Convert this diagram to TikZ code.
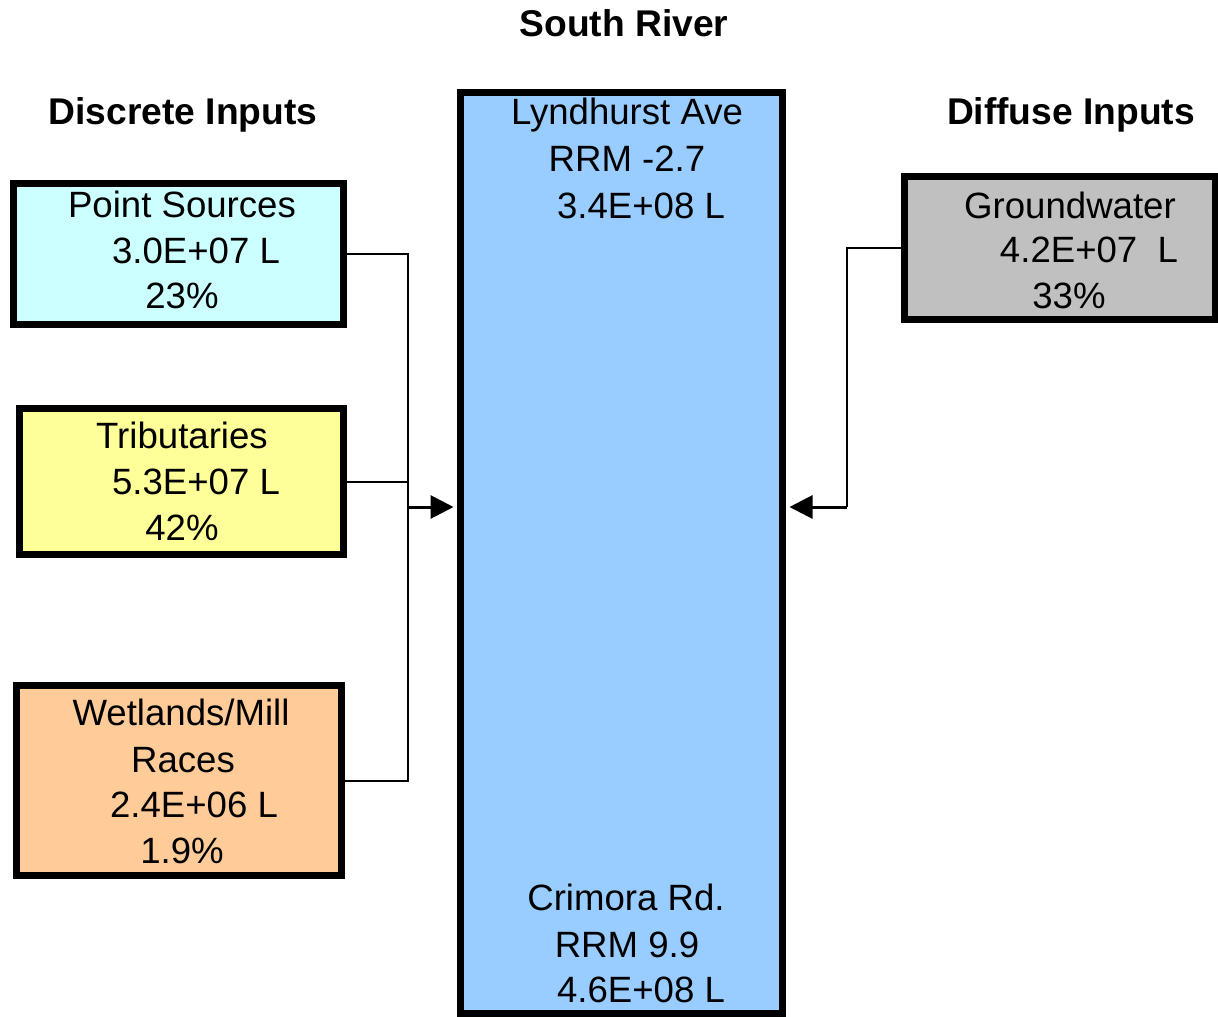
\documentclass[tikz,border=0pt]{standalone}
\usepackage{fontspec}
\setmainfont{Liberation Sans}
\usetikzlibrary{arrows.meta}
\definecolor{pscol}{HTML}{CCFFFF}
\definecolor{trcol}{HTML}{FFFF99}
\definecolor{wlcol}{HTML}{FFCC99}
\definecolor{gwcol}{HTML}{C0C0C0}
\definecolor{rvcol}{HTML}{99CCFF}
\begin{document}
\begin{tikzpicture}[x=0.5pt,y=-0.5pt,
  box/.style={draw=black,line width=3.5pt,rectangle,inner sep=0pt},
  txt/.style={inner sep=0pt,anchor=base,font=\fontsize{18.3}{23}\selectfont},
  ttl/.style={inner sep=0pt,anchor=base,font=\fontsize{18.6}{23}\selectfont\bfseries},
  conn/.style={line width=1pt},
  arr/.style={line width=1.5pt,-{Triangle[length=11.5pt,width=11.5pt]}}]
\useasboundingbox (0,0) rectangle (1218,1016);
% boxes
\node[box,fill=pscol,minimum width=165pt,minimum height=70.5pt] (ps) at (178.5,254) {};
\node[box,fill=trcol,minimum width=162pt,minimum height=73pt] (tr) at (181.5,481.5) {};
\node[box,fill=wlcol,minimum width=162.5pt,minimum height=95pt] (wl) at (179,780.5) {};
\node[box,fill=gwcol,minimum width=155.5pt,minimum height=71.5pt] (gw) at (1060,248) {};
\node[box,fill=rvcol,minimum width=161pt,minimum height=460.5pt] (rv) at (621.5,553) {};
% titles
\node[ttl] (t1) at (624,37) {South River};
\node[ttl] (t2) at (183,125) {Discrete Inputs};
\node[ttl] (t3) at (1071,125) {Diffuse Inputs};
% texts
\node[txt] (ps1) at (182,217) {Point Sources};
\node[txt] (ps2) at (196,263) {3.0E+07 L};
\node[txt] (ps3) at (182,308) {23\%};
\node[txt] (tr1) at (182,448) {Tributaries};
\node[txt] (tr2) at (196,494) {5.3E+07 L};
\node[txt] (tr3) at (182,540) {42\%};
\node[txt] (wl1) at (181,725) {Wetlands/Mill};
\node[txt] (wl2) at (183,772) {Races};
\node[txt] (wl3) at (194,817) {2.4E+06 L};
\node[txt] (wl4) at (182,863) {1.9\%};
\node[txt] (gw1) at (1070,218) {Groundwater};
\node[txt] (gw2) at (1089,262) {4.2E+07\ \ L};
\node[txt] (gw3) at (1069,308) {33\%};
\node[txt] (rv1) at (627,125) {Lyndhurst Ave};
\node[txt] (rv2) at (627,172) {RRM -2.7};
\node[txt] (rv3) at (641,218) {3.4E+08 L};
\node[txt] (rv4) at (626,910) {Crimora Rd.};
\node[txt] (rv5) at (627,957) {RRM 9.9};
\node[txt] (rv6) at (641,1002) {4.6E+08 L};
% connectors
\coordinate (bus) at (408,507);
\coordinate (gwbus) at (847,507);
\draw[conn] (ps.east) -| (bus) |- (wl.east);
\draw[conn] (tr.east) -- (tr.east -| bus);
\draw[arr] (bus) -- ([xshift=-1.75pt]rv.west |- bus);
\draw[conn] (gw.west) -| (gwbus);
\draw[arr] (gwbus) -- ([xshift=1.75pt]rv.east |- gwbus);
\end{tikzpicture}
\end{document}
